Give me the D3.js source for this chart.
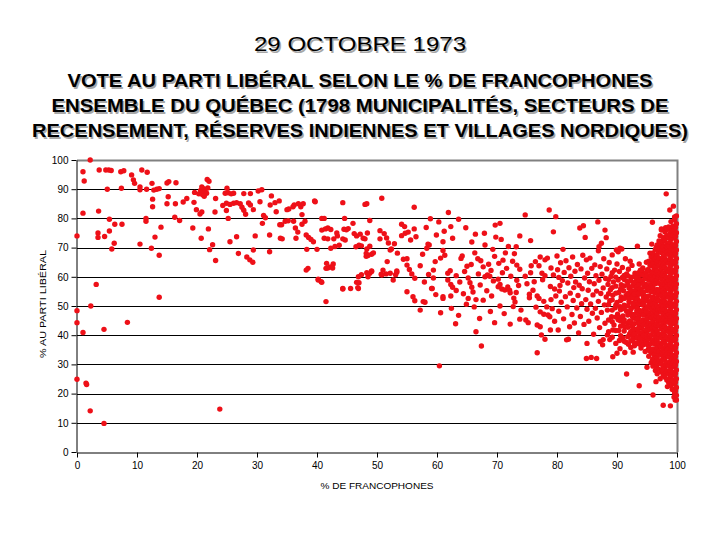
<!DOCTYPE html>
<html>
<head>
<meta charset="utf-8">
<title>29 octobre 1973</title>
<script src="https://d3js.org/d3.v7.min.js"></script>
<style>
body { margin: 0; background: #fff; }
svg { display: block; font-family: "Liberation Sans", Arial, sans-serif; }
</style>
</head>
<body>
<div id="chart"></div>

<script>

var xTicks = [0, 10, 20, 30, 40, 50, 60, 70, 80, 90, 100];
var yTicks = [0, 10, 20, 30, 40, 50, 60, 70, 80, 90, 100];

// [% de francophones, % au parti libéral]
var anglo = [
  [0,74],[2.2,100],[1,96],[1.2,92.8],[1,81.8],[3.7,96.6],[3.6,82.5],[3.5,75],[3.5,73.5],[4.6,73.8],
  [4.8,96.6],[5.05,90],[5.3,96.6],[5.7,96.4],[5.4,79.7],[5.4,75.7],[6.3,78],[6.2,71.5],[5.8,69.5],[3.2,57.4],
  [7.3,96],[7.8,96.3],[7.4,90.3],[7.5,78],[9.1,94.9],[9.4,93.2],[9.6,92],[10.5,90.8],[10.5,89.8],[10.5,71.2],
  [10.8,96.6],[11.7,95.8],[11.6,90],[11.5,80],[11.5,79],[12.5,92],[12.8,89.7],[12.6,86.6],[12.6,84],[12.4,69.8],
  [13,73.6],[13.7,67.4],[14,77],[13.7,53],[13.3,90],[13.7,90.2],[15,92.1],[15.3,92.6],[15.2,87.4],[15,85],
  [16.5,92.2],[16.4,85],[16.3,80.4],[17.1,79.3],[17.7,85.6],[18.3,86.8],[19.3,76.7],[19.5,85.5],[19.6,88.9],[19.9,83],
  [20.3,88.4],[20.6,89.6],[20.9,88.2],[21.1,90.2],[21.4,89],[21.6,88.6],[21.8,90.4],[21.2,87.6],[20.8,90.8],
  [21.7,93.3],[22,92.7],[20.5,81.5],[20.8,82.2],[20.7,73.2],[21.9,76.4],[22.1,69.3],[22.6,71],[23,82.2],[23.1,86.8],[23.1,65.6],
  [0,48.4],[0,44.3],[1,40.9],[2.3,50],[4.5,42],[8.4,44.4],[0,24.9],[1.5,23.6],[1.6,23.1],[2.2,14.1],[4.5,9.8],[23.8,14.7],
  [24.7,88.6],[25.2,88.8],[25.7,88.4],[26.1,88.6],[24.9,85.2],[24.9,82.7],[25.2,80],[25.5,84.8],[26.1,85.2],[26.6,85.4],
  [27.2,85],[27.5,83.8],[27.8,82.8],[28.1,81.4],[27.8,88.5],[28.9,88.5],[28.6,85.3],[28.9,84.6],[29.4,83],[30.2,89.4],
  [30.8,89.8],[30.5,85.7],[31.1,81],[31.4,80.2],[26.6,73.7],[25.5,72],[26.9,68],[28.3,66.8],[28.8,65.8],[29.3,65],
  [29.7,74],[29.4,69.2],[24.3,84.4],[25,90.3]
];

var mixte = [
  [30.9,78.3],[32.1,74.3],[32.1,68.6],[32.4,87.7],[32.2,84.6],[33,85.4],[33.7,86],[33.2,82.3],[33.8,77.8],[34.1,77.8],
  [33.9,73.2],[34.2,73],[34.7,79],[35.2,79.2],[35,83],[35.3,83.2],[36.2,84.6],[36.1,79],[36.4,76.7],[36.8,75.3],
  [36.5,73.2],[37.3,84],[37.7,85],[37.5,81.3],[37.5,78],[38,79],[38.2,74.3],[38.6,73.5],[39,72.8],[39.4,72],
  [38.3,69.4],[38.5,62.9],[38.2,62.3],[39.7,85.7],[39.6,86],[40,69.4],[40.2,59.2],[40.7,58.3],[40.8,80],[41.2,80],
  [40.8,76],[41.4,76.4],[41.8,76.7],[42.3,76.2],[41.2,73.2],[41.8,73],[41.6,64.6],[41.5,62.9],[42.2,63.4],[42.7,64.4],
  [41.8,63],[42.6,63],[42.3,69.8],[43,70.4],[43.7,70.8],[42.8,73],[43.4,74],[43.3,75],[44.3,85.4],[44.6,80],
  [44.5,76.3],[44.9,76.1],[45.2,76.5],[44.3,73],[44.7,72.6],[44.3,56],[45.6,56],[46,78.3],[46.2,74.8],[46.6,74],
  [47.2,74.6],[47.7,73.2],[48,73],[46.5,70.3],[47,70.8],[47.4,70.6],[46.8,56.3],[47,58],[46.9,60],[47.4,60.7],
  [48.3,61.4],[49.1,62],[48.3,85],[48.2,67],[48.5,67.3],[48.3,69.5],[48.8,70.5],[48.4,75],[48.8,79.3],[49.1,67.7],
  [48,84.8],[50.8,86.9],[50.5,75.8],[51,62.3],[51.5,61],[52.2,61.2],[51.6,73.3],[51.9,71.6],[52.2,69.2],[52.4,69.5],
  [52.7,58.9],[53.3,62],[41.5,51.5],[40.2,58.9],[40.8,58.1],[44.3,55.8],[46.6,58.1],[46.9,56],[48.5,60],[48.8,61.2],
  [49.1,61.8],[49.4,68.2],[48.2,68],[51.7,65.2],[50.8,60.6],[53.3,61.6],[56.2,83.8],[54.1,78],[56.2,76.4],[54.1,74.1],
  [54.7,74.9],[55.6,72.6],[56.5,73.7],[58.3,69.8],[58.7,70.9],[58.5,71.2],[54.4,66],[55,66.2],[55,64],[55.4,62.5],
  [55.8,61],[56.3,59.5],[55,54.9],[56,53.2],[56.3,51.8],[58,51.3],[36,84],[36.9,85],[50.5,73],[51.2,74.8],
  [52.9,71.3],[53.4,68.1],[57.7,51.5],[59.1,56],[61,53.2],[54.6,77.2],[55.2,75.3],[50.7,60.9],[53.1,60.7],[59.4,59.6],
  [61.9,82],[63.6,79.7],[62.3,77.2],[62.6,73.2],[61,72],[61,69],[59.7,65.2],[60.6,66.4],[61.3,67.4],[59.4,62.3],
  [59.2,56],[61.8,61.2],[62.2,62.1],[61.8,58.9],[62.3,57.4],[62.6,56.4],[61,52.6],[62.3,53.4],[62.4,49.2],[64,66.3],
  [64.2,67.1],[60.4,29.5],[66.5,41.2],[67.4,36.3],[68,70.9],[69.3,69.4],[66.3,68.2],[66.8,66.2],[67.3,65.5],[67.7,63.4],
  [65.2,59.6],[65.5,58],[65.8,56.4],[66,54.8],[65.2,52.6],[66.5,52.2],[67.7,52],[68,60],[68.4,60.6],[68.8,60.2],
  [67.2,57.2],[69.1,53.4],[69.7,77.7],[70.5,78.3],[70.3,64.6],[70.2,59.2],[70.5,57.4],[70.2,56.6],[70.8,55.8],[71.3,55.5],
  [70.5,50],[71,65.7],[71.6,62.9],[71.8,56.5],[72.1,55.4],[72.2,54.5],[72.2,43.8],[73.2,70.3],[73.8,74],[74.7,81.2],
  [73.3,64],[73.8,62.6],[73.3,58.8],[73.6,57],[73.2,54.6],[72.8,52.7],[73,51.4],[74,48.6],[73.8,45.5],[74.8,45.2],
  [63.2,60.4],[63.8,58.2],[64.6,61.8],[65,63.6],[65.7,64.2],[66.9,61],[68.6,64.3],[69,62.2],[69.6,67],[68.3,55.2],
  [69.4,58.6],[70.9,61.4],[71.4,68.2],[72.3,60.2],[72.6,65.3],[72.9,67.9],[71.9,70.4],[70.7,72.8],[63.2,55.3],[64.4,54.2],
  [64.9,50.6],[66.2,49.7],[68.9,48.1],[63.6,46.8],[67.1,45.7],[71.2,47.4],[72.7,49.8],[69.8,73.6],[66.4,74.6],[64.8,76.8],
  [59.9,74.3],[58.2,76.9],[57.6,67.7],[57.2,63.8],[58.6,60.8],[57.9,58.2],[59.8,53.9],[57.2,48.6],[60.6,47.7],[63.1,43.9],
  [69.6,44.3],[58.9,79.9],[60.3,78.8],[61.2,75.6],[65.8,71.9],[67.9,74.9]
];

var franco = [
  [75.2,44.3],[74.7,60.2],[75.6,61.4],[75.7,63.8],[75,57.6],[76,55.4],[75.4,54],[76.7,53.4],[75.4,52.8],[75.6,72.4],
  [76.7,43.5],[77.2,42.9],[76.7,34],[77.4,40.1],[78,38.6],[77.2,48],[77.8,47.2],[78.5,46.9],[77,52.6],[77.8,51.6],
  [78.3,49.7],[77,63.8],[77.5,61.2],[78,60.4],[77.6,59],[77.2,66.8],[78,65.8],[78.4,66.4],[78.7,82.9],[79.8,80.6],
  [79.4,75.4],[80,67.1],[79,63],[79.4,60.6],[80.3,59.8],[80.5,57],[79.6,55.8],[79.8,53.4],[79,52.2],[78.8,46.3],
  [79.6,44.8],[80.2,41.8],[78.9,41.8],[76.2,58.3],[76.5,49.6],[78.9,56.7],[79.2,49.1],[76.4,65.2],
  [80.1,62.4],[80.3,48.2],[80.4,55.1],[80.6,64.8],[80.7,51.3],[80.9,58.7],[81,69.4],[81.1,45.6],[81.2,61.5],[81.4,53.2],
  [81.5,65.5],[81.6,38.4],[81.7,49.7],[81.8,57.9],[81.9,38.6],[82,63.1],[82.1,42.9],[82.2,54.4],[82.3,60.2],[82.5,47.1],
  [82.6,66.8],[82.7,51.9],[82.8,56.3],[82.9,44.2],[83,61.9],[83.1,58.2],[83.3,49.3],[83.4,64.2],[83.5,53.6],[83.6,40.8],
  [83.7,57.1],[83.8,76.7],[83.9,46.4],[84,62.7],[84.1,50.8],[84.2,55.9],[84.3,67.4],[84.4,77.5],[84.5,43.7],[84.6,59.6],
  [84.7,73.5],[84.8,52.2],[84.9,32],[84.9,65.8],[85,37.2],[85,48.9],
  [85.1,61.2],[85.2,55.4],[85.3,44.8],[85.4,58.3],[85.5,66.4],[85.6,50.7],[85.7,32.4],[85.8,62.9],[85.9,47.5],[86,53.8],
  [86.1,40.3],[86.2,57.6],[86.3,64.1],[86.4,49.2],[86.5,60.4],[86.6,32],[86.6,55.1],[86.7,45.9],[86.8,78.8],[86.9,68.9],
  [86.9,51.6],[87,70.3],[87,58.8],[87.1,42.6],[87.2,63.5],[87.3,54.3],[87.4,71.5],[87.4,47.8],[87.5,60.9],[87.6,36.7],
  [87.7,38.5],[87.7,56.2],[87.8,66.2],[87.9,50.4],[88,76],[88,44.1],[88.1,59.4],[88.2,73.4],[88.2,53.1],[88.3,62.7],
  [88.4,48.6],[88.5,57.4],[88.6,41.2],[88.7,64.9],[88.8,38.5],[88.8,51.8],[88.9,55.6],[89,60.1],[89.1,46.3],[89.2,67.5],
  [89.3,32.6],[89.3,53.7],[89.4,58.2],[89.5,43.5],[89.6,62.3],[89.7,49.4],[89.8,56.8],[89.9,69.2],[90,33.8],[90,51.2],
  [90,64.4],[87.2,37.8],[88.4,40.1],[89.3,41.8],[90.2,68.6],[90.8,69.5],
  [90.1,47.2],[90.2,58.9],[90.3,41.6],[90.3,54.6],[90.4,61.8],[90.5,35.4],[90.5,69.8],[90.5,49.8],[90.6,44.9],[90.7,57.3],
  [90.8,52.4],[90.9,63.2],[91,39.1],[91,46.6],[91.1,55.2],[91.2,60.5],[91.2,50.3],[91.3,42.8],[91.4,66.2],[91.5,53.6],
  [91.5,37.6],[91.6,26.7],[91.6,48.2],[91.7,58.4],[91.8,44.1],[91.9,62.6],[92,51.5],[92,56.2],[92.1,40.4],[92.2,47.5],
  [92.3,59.9],[92.3,35.8],[92.4,53.9],[92.5,63.9],[92.5,43.3],[92.6,49.6],[92.7,34.2],[92.7,57.1],[92.8,38.9],[92.9,45.8],
  [93,61.2],[93,52.3],[93.1,41.9],[93.2,55.5],[93.3,48.4],[93.4,70.5],[93.4,37.1],[93.5,58.7],[93.5,44.6],[93.6,51.1],
  [93.7,22.7],[93.7,64.4],[93.8,40.2],[93.8,54.7],[93.9,47.3],[94,57.9],[94,35.6],[94.1,42.5],[94.2,50.4],[94.2,61.7],
  [94.3,63],[94.3,45.2],[94.4,53.2],[94.5,38.4],[94.5,56.6],[94.6,48.9],[94.7,34.4],[94.7,59.5],[94.8,43.7],[94.9,65],
  [94.9,51.8],[95,40.9],[95,55.3],[95,46.5],[95.2,35],[95.1,62.4],
  [90.4,38.2],[90.9,59.8],[91.3,34.1],[91.8,52.9],[92.2,65.3],[92.9,36.4],[93.3,50.2],[93.9,60.6],[94.4,41.1],[94.8,57.4],
  [91.1,44.3],[92.6,41.7],[93.6,46.2],[94.1,54.1],[90.7,53.1],[92.4,47],[93.1,58.4],[94.6,39.1],[91.6,61],[92.8,55],
  [90.2,45.3],[91.9,36.9],[93.7,42.8],[94.9,49.2],[92.1,44.9],[93.4,53.7]
];

// colonnes très denses (88 à 100 % de francophones)
var denseCols = [
  [88.6, [45.2,50.5,54.2,59.1]],
  [89.2, [39.3,44.6,48.6,52.1,56.3,61.4]],
  [89.8, [37.2,41.6,46.2,50.3,54.4,59.9]],
  [90.6, [39.8,43.1,46,48.7,51.9,55.8]],
  [91.2, [37.9,41.4,45.2,49.1,52.6,56.9,59.1]],
  [91.8, [39.5,42.7,46.9,50.1,54.3,57.2,60.3]],
  [92.3, [38.1,41.2,44.5,48.8,52.7,55.3,58.6]],
  [92.6, [39.6,42.9,46.3,50.9,53.1,56.8]],
  [92.9, [37.3,40.4,43.9,47.1,50.8,54.1,57.9,60.1]],
  [93.4, [39.2,42.1,45.5,49.3,52.4,56.4,59.8]],
  [93.6, [37.8,41.1,44.2,47.6,50.9,54.3,57.2,61.4]],
  [93.9, [36.8,38.9,44.3,48.4,51.6,55.8,58.9,62.3]],
  [94.2, [37.3,40.8,44.8,47.9,51.8,55,58.6]],
  [94.4, [36.7,39.9,43.6,46.9,50.7,54.6,57.7,60.5]],
  [94.9, [37.6,41.9,45.1,48.1,53.3,56.5,59.4,61.5]],
  [95.0, [36.9,39.4,43.1,45.8,49.6,52.9,57.1,60.4]],
  [95.3, [32.8,36.1,38.7,41.9,44.2,47.6,50.3,53.4,56.1,58.8,62.2,65.3]],
  [95.5, [34.7,39.6,42.7,46.7,51.1,55.5,59.8,63.9]],
  [95.7, [30.6,33.9,37.2,40.1,43.3,45.8,49.1,51.7,54.9,57.4,60.6,63.8,66.9]],
  [95.9, [31.4,34.6,37.9,42.6,46.1,48.6,52.2,55.2,58.4,61.2,65.3]],
  [96.0, [29.4,31.8,35.3,38.4,41.1,44.6,47.2,50.5,53.1,56.3,59.2,61.7,64.5,68.2]],
  [96.2, [33.2,37.7,43.1,46.4,49.7,52.3,58.3,62.6,66.9]],
  [96.4, [27.9,30.7,33.6,36.9,39.6,42.4,45.7,48.3,51.2,54.4,57.6,60.1,63.3,66.1,69.4]],
  [96.55, [29.1,31.3,34.5,37.6,40.7,43.5,46.6,49.4,52.1,55.2,58.1,61.3,63.6,66.7,70.1]],
  [96.7, [26.8,29.9,32.4,35.8,38.2,41.5,44.1,47.4,50.1,52.8,55.7,58.9,62.1,64.8,67.6,70.9]],
  [96.9, [30.6,33.6,39.4,45.2,48.6,54.2,59.9,65.4,68.7]],
  [97.0, [28.3,31.2,34.4,37.1,40.3,43.2,46.1,49.3,51.9,55.1,57.8,60.8,63.7,66.4,69.7,72.3]],
  [97.2, [25.1,36.4,48.6,61.4,74.1]],
  [97.4, [27.4,30.1,33.2,35.9,39.1,42.1,44.8,47.9,50.7,53.6,56.5,59.4,62.6,65.2,68.3,71.1,76]],
  [97.55, [28,31.4,34.2,37.3,40.2,43.3,46.1,48.9,51.8,55.1,57.6,60.6,63.5,66.2,69.4,72.1]],
  [97.7, [26.2,29.1,32.1,34.9,37.9,40.8,43.9,46.7,49.6,52.4,55.3,58.1,61.2,64.1,66.9,70.2,73.4]],
  [98.0, [25.6,28.4,31.4,34.1,37.2,39.9,42.9,45.9,48.8,51.6,54.6,57.3,60.4,63.2,66.2,69.1,72.4,75.3]],
  [98.15, [27,29.9,32.8,35.7,38.6,41.5,44.5,47.3,50.2,53.2,56,59,61.8,64.8,67.7,70.6,73.5]],
  [98.3, [24.7,27.6,30.5,33.4,36.3,39.2,42.2,45.1,48,50.9,53.8,56.7,59.7,62.5,65.5,68.4,71.3,74.1]],
  [98.4, [22.4,35.1,46.6,58.2,70.1,76.3]],
  [98.6, [23.9,26.9,29.6,32.7,35.5,38.5,41.3,44.4,47.1,50.2,53,55.9,58.9,61.8,64.6,67.7,70.6,73.5,77.1]],
  [98.8, [24.9,27.9,30.8,33.9,36.8,39.8,42.6,45.7,48.5,51.4,54.3,57.3,60.1,63,66,68.9,71.8,74.7]],
  [99.0, [22.8,25.9,28.8,31.9,34.7,37.7,40.6,43.6,46.4,49.4,52.3,55.2,58.2,61.1,63.9,66.8,69.8,72.8,75.6,78.9]],
  [99.15, [23.6,26.6,29.6,32.5,35.4,38.5,41.3,44.3,47.2,50.1,53,55.9,58.9,61.8,64.7,67.6,70.5,73.5,76.5]],
  [99.3, [21.4,24.5,27.3,30.3,33.1,36.1,39.1,42,44.9,47.8,50.7,53.7,56.4,59.5,62.3,65.3,68.1,71,74.2,77.3]],
  [99.5, [18.8,30.9,45.5,57.2,69,75.8]],
  [99.6, [20.2,23.4,26.3,29.3,32.4,35.2,38.2,41.1,44,47,49.9,52.9,55.8,58.7,61.6,64.5,67.4,70.4,73.3,76.4,79.6]],
  [99.75, [21,24,27,29.9,32.8,35.8,38.6,41.7,44.6,47.5,50.4,53.4,56.3,59.2,62.1,65,68,70.8,73.9,77]],
  [99.9, [17.8,19.4,22.1,25.1,28.1,31,34,36.9,39.9,42.8,45.7,48.7,51.6,54.5,57.5,60.4,63.3,66.3,69.2,72.1,75.1,78.2]]
];

var quasiIsoles = [
  [96,19.5],[96.5,24.1],[97.7,16],[98.9,15.8],[99.7,17.8],[99.2,21.5],[98.8,25.3],[95,29],[96.2,30.4],[95.9,78.7],
  [98.2,88.4],[98.8,82.9],[99.4,84.2],[99.6,80.5],[97.4,76.4],[98.1,76.8],[98.8,76.6],[99.9,80.8],[95.5,68.1],[95.8,71.2]
];

var titre = "29 OCTOBRE 1973";
var sousTitre = [
  "VOTE AU PARTI LIBÉRAL SELON LE % DE FRANCOPHONES",
  "ENSEMBLE DU QUÉBEC (1798 MUNICIPALITÉS, SECTEURS DE",
  "RECENSEMENT, RÉSERVES INDIENNES ET VILLAGES NORDIQUES)"
];
var xLabel = "% DE FRANCOPHONES";
var yLabel = "% AU PARTI LIBÉRAL";

var width = 720;
var height = 540;
var rouge = "#ee1018";

var points = anglo.concat(mixte, franco, quasiIsoles);
denseCols.forEach(function(c) {
  c[1].forEach(function(v) { points.push([c[0], v]); });
});

var svg = d3.select("#chart")
  .append("svg")
    .attr("width", width)
    .attr("height", height);

var x = d3.scaleLinear().domain([0, 100]).range([77, 677]);
var y = d3.scaleLinear().domain([0, 100]).range([452, 160]);

// titres avec ombre
function shadowText(txt, cx, cy, size, weight, len) {
  [["#a8a8a8", 1.5], ["#000", 0]].forEach(function(s) {
    svg.append("text")
      .attr("x", cx + s[1])
      .attr("y", cy + s[1])
      .attr("text-anchor", "middle")
      .attr("textLength", len)
      .attr("lengthAdjust", "spacingAndGlyphs")
      .style("font-size", size + "px")
      .style("font-weight", weight)
      .style("fill", s[0])
      .text(txt);
  });
}

shadowText(titre, 360, 51, 20, "normal", 212);
shadowText(sousTitre[0], 360, 87, 19, "bold", 585);
shadowText(sousTitre[1], 360, 112, 19, "bold", 617);
shadowText(sousTitre[2], 360, 137, 19, "bold", 656);

// quadrillage
svg.append("g")
  .selectAll("line")
  .data(yTicks.filter(function(d) { return d > 0 && d < 100; }))
  .enter()
  .append("line")
    .attr("x1", x(0))
    .attr("x2", x(100))
    .attr("y1", function(d) { return Math.round(y(d)) + 0.5; })
    .attr("y2", function(d) { return Math.round(y(d)) + 0.5; })
    .style("stroke", "#000")
    .style("stroke-width", 1);

// bordure de la zone de tracé
svg.append("path")
  .attr("d", "M" + x(0) + "," + (y(100) + 0.5) + "H" + (x(100) + 0.5) + "V" + y(0))
  .style("fill", "none")
  .style("stroke", "#808080")
  .style("stroke-width", 2);

var xAxis = svg.append("g")
  .attr("transform", "translate(0," + (y(0) + 0.5) + ")")
  .call(d3.axisBottom(x).tickValues(xTicks).tickSize(5).tickSizeOuter(0).tickPadding(4));

var yAxis = svg.append("g")
  .attr("transform", "translate(" + (x(0) - 0.5) + ",0)")
  .call(d3.axisLeft(y).tickValues(yTicks).tickSize(5).tickSizeOuter(0).tickPadding(3));

[xAxis, yAxis].forEach(function(a) {
  a.selectAll("path, line").style("stroke", "#000").style("stroke-width", 1);
  a.selectAll("text")
    .style("font-family", "'Liberation Sans', Arial, sans-serif")
    .style("font-size", "10px")
    .style("fill", "#000");
});

svg.append("text")
  .attr("x", 377)
  .attr("y", 489)
  .attr("text-anchor", "middle")
  .attr("textLength", 113)
  .attr("lengthAdjust", "spacingAndGlyphs")
  .style("font-size", "9px")
  .text(xLabel);

svg.append("text")
  .attr("transform", "translate(46,304) rotate(-90)")
  .attr("text-anchor", "middle")
  .attr("textLength", 108)
  .attr("lengthAdjust", "spacingAndGlyphs")
  .style("font-size", "9px")
  .text(yLabel);

// points
svg.append("g")
  .selectAll("circle")
  .data(points)
  .enter()
  .append("circle")
    .attr("cx", function(d) { return x(d[0]); })
    .attr("cy", function(d) { return y(d[1]); })
    .attr("r", 2.7)
    .style("fill", rouge);

</script>
</body>
</html>
